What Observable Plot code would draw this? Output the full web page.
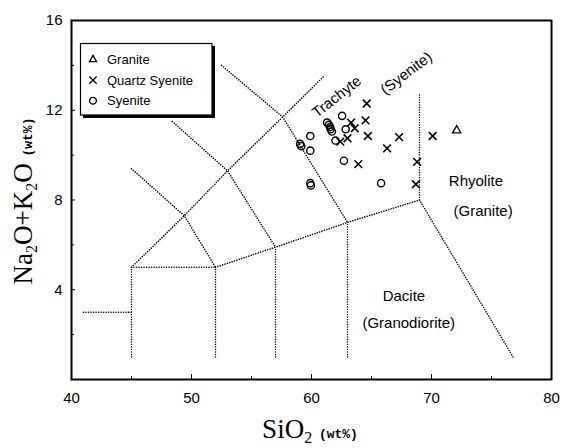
<!DOCTYPE html>
<html><head><meta charset="utf-8">
<script src="https://cdn.jsdelivr.net/npm/d3@7"></script>
<script src="https://cdn.jsdelivr.net/npm/@observablehq/plot@0.6"></script>
<style>
html,body{margin:0;padding:0;background:#fff;}
#chart{position:relative;width:561px;height:448px;}
</style></head><body><div id="chart"></div>
<script>
// ---- tick values ----
const xTicks = [40, 50, 60, 70, 80];
const xMinor = [45, 55, 65, 75];
const yTicks = [4, 8, 12, 16];
const yMinor = [2, 6, 10, 14];

// ---- legend ----
const legendNames = ["Granite", "Quartz Syenite", "Syenite"];
const legendSymbols = ["triangle2", "times", "circle"];

// ---- samples (SiO2 wt%, Na2O+K2O wt%) ----
const graniteX = [72.1];
const graniteY = [11.1];
const qsX = [64.6, 64.5, 63.3, 63.6, 64.7, 63.0, 62.4, 67.3, 66.3, 70.1, 63.9, 68.8, 68.7];
const qsY = [12.3, 11.55, 11.45, 11.2, 10.85, 10.75, 10.6, 10.8, 10.3, 10.85, 9.6, 9.7, 8.7];
const syX = [62.55, 61.3, 61.45, 61.55, 61.6, 61.7, 62.85, 62.0, 59.9, 59.05, 59.15, 59.9, 62.7, 59.9, 59.95, 65.8];
const syY = [11.75, 11.45, 11.35, 11.25, 11.15, 11.05, 11.15, 10.65, 10.85, 10.5, 10.4, 10.2, 9.75, 8.75, 8.65, 8.75];

// ---- TAS field boundaries (SiO2, Na2O+K2O) ----
const boundaryLines = [
  [[41, 3], [45, 3]],
  [[45, 1], [45, 5]],
  [[45, 5], [52, 5]],
  [[52, 1], [52, 5]],
  [[57, 1], [57, 5.9]],
  [[63, 1], [63, 7]],
  [[52, 5], [57, 5.9], [63, 7], [69, 8]],
  [[69, 8], [69, 12.7]],
  [[69, 8], [76.8, 1]],
  [[45, 5], [49.4, 7.3], [53, 9.3], [57.6, 11.7], [61, 13.5]],
  [[45, 9.4], [49.4, 7.3], [52, 5]],
  [[48.4, 11.5], [53, 9.3], [57, 5.9]],
  [[52.5, 14], [57.6, 11.7], [63, 7]]
];

// ---- field labels ----
const regionLabels = ["Trachyte", "(Syenite)", "Rhyolite", "(Granite)", "Dacite", "(Granodiorite)"];
const regionX = [62.1, 67.9, 73.7, 74.3, 67.7, 68.1];
const regionY = [12.6, 13.65, 8.85, 7.5, 3.7, 2.5];
const regionAngle = [-38, -37, 0, 0, 0, 0];

const boundaryRows = boundaryLines.flatMap((line, id) => line.map(([x, y]) => ({id, x, y})));
const regionRows = regionLabels.map((t, i) => ({t, x: regionX[i], y: regionY[i], a: regionAngle[i]}));
const graniteRows = graniteX.map((x, i) => ({x, y: graniteY[i]}));
const qsRows = qsX.map((x, i) => ({x, y: qsY[i]}));
const syRows = syX.map((x, i) => ({x, y: syY[i]}));

const chart = Plot.plot({
  width: 561, height: 448,
  marginLeft: 71, marginRight: 10, marginTop: 20, marginBottom: 69,
  x: {domain: [40, 80]},
  y: {domain: [0, 16]},
  style: {fontFamily: "'Liberation Sans', Arial, sans-serif", fontSize: "15px", background: "white", color: "black"},
  marks: [
    Plot.line(boundaryRows, {x: "x", y: "y", z: "id", stroke: "black", strokeWidth: 1.5, strokeDasharray: "0.1 2.4", strokeLinecap: "round"}),
    Plot.text(regionRows, {x: "x", y: "y", text: "t", rotate: "a", fontSize: 15, fill: "black"}),
    Plot.dot(graniteRows, {x: "x", y: "y", symbol: legendSymbols[0], r: 4, stroke: "black", strokeWidth: 1.3, fill: "none"}),
    Plot.dot(qsRows, {x: "x", y: "y", symbol: legendSymbols[1], r: 3.6, stroke: "black", strokeWidth: 1.6, fill: "none"}),
    Plot.dot(syRows, {x: "x", y: "y", symbol: legendSymbols[2], r: 3.6, stroke: "black", strokeWidth: 1.4, fill: "none"}),
    Plot.axisX({ticks: xTicks, tickSize: -5, tickPadding: 18, label: null, fontSize: 15}),
    Plot.axisX({ticks: xMinor, tickSize: -3, tickFormat: () => "", label: null}),
    Plot.axisY({ticks: yTicks, tickSize: -4, tickPadding: 13, label: null, fontSize: 15}),
    Plot.axisY({ticks: yMinor, tickSize: -3, tickFormat: () => "", label: null}),
    Plot.frame({stroke: "black", strokeWidth: 2})
  ]
});
document.getElementById("chart").appendChild(chart);

// ---- legend and axis titles ----
const svg = d3.select(chart);
const lg = svg.append("g");
lg.append("rect").attr("x", 83).attr("y", 46).attr("width", 132).attr("height", 72).attr("fill", "black");
lg.append("rect").attr("x", 80.5).attr("y", 43.5).attr("width", 131.5).attr("height", 71.5)
  .attr("fill", "white").attr("stroke", "black").attr("stroke-width", 1.2);
const symMap = {triangle2: d3.symbolTriangle2, times: d3.symbolTimes, circle: d3.symbolCircle};
legendNames.forEach((name, i) => {
  const cy = 59.5 + i * 20.6;
  lg.append("path").attr("transform", `translate(93,${cy})`)
    .attr("d", d3.symbol(symMap[legendSymbols[i]], Math.PI * 3.4 * 3.4)())
    .attr("fill", "none").attr("stroke", "black").attr("stroke-width", 1.3);
  lg.append("text").attr("x", 107).attr("y", cy).attr("dy", "0.36em").attr("text-anchor", "start")
    .attr("font-family", "'Liberation Sans', Arial, sans-serif").attr("font-size", 13).text(name);
});

function title(g, parts) {
  const t = g.append("text").attr("text-anchor", "middle")
    .attr("font-family", "'Liberation Serif', 'Times New Roman', serif").attr("font-size", 27).attr("fill", "black");
  let shift = 0;
  parts.forEach(([s, kind]) => {
    const ts = t.append("tspan").text(s);
    let target = 0;
    if (kind === "sub") { ts.attr("font-size", 16); target = 5; }
    if (kind === "unit") { ts.attr("font-size", 13).attr("font-family", "'Liberation Mono', 'Courier New', monospace").attr("font-weight", "bold"); }
    if (target !== shift) { ts.attr("dy", target - shift); shift = target; }
  });
}
const xt = svg.append("g").attr("transform", "translate(310,438)");
title(xt, [["SiO", ""], ["2", "sub"], [" ", ""], ["(wt%)", "unit"]]);
const yt = svg.append("g").attr("transform", "translate(32,201) rotate(-90)");
title(yt, [["Na", ""], ["2", "sub"], ["O+K", ""], ["2", "sub"], ["O", ""], [" ", ""], ["(wt%)", "unit"]]);
</script></body></html>
